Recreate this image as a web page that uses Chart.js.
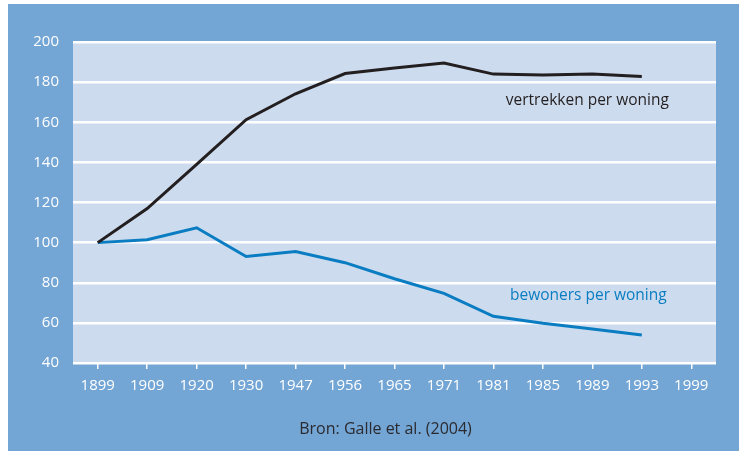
<!DOCTYPE html>
<html>
<head>
<meta charset="utf-8">
<script src="https://cdn.jsdelivr.net/npm/chart.js@4"></script>
<style>
  html, body { margin: 0; padding: 0; background: #fff; }
  #wrap { position: absolute; left: 8px; top: 4px; width: 731px; height: 447px; background: #73a5d5; }
</style>
</head>
<body>
<div id="wrap"><canvas id="chart"></canvas></div>
<script>
// ── DATA ───────────────────────────────────────────────────────────────────
const years      = ['1899','1909','1920','1930','1947','1956','1965','1971','1981','1985','1989','1993','1999'];
const vertrekken = [100, 117, 139, 161.3, 174.2, 184.3, 187, 189.5, 184, 183.6, 184.1, 182.8, null];
const bewoners   = [100, 101.4, 107.4, 93.1, 95.6, 90, 82, 74.7, 63.3, 59.8, 56.9, 54, null];
const yTicks     = [40, 60, 80, 100, 120, 140, 160, 180, 200];

const FONT = "'Open Sans', sans-serif";
const BLACK = '#231f20';
const BLUE  = '#0a7dc2';

// plot background + series labels + source
const decor = {
  id: 'decor',
  beforeDraw(chart) {
    const { ctx, chartArea: a } = chart;
    ctx.save();
    ctx.fillStyle = '#cddbee';
    ctx.fillRect(a.left, a.top, a.right - a.left, a.bottom - a.top);
    ctx.restore();
  },
  afterDraw(chart) {
    const { ctx, chartArea: a, scales: { x, y } } = chart;
    ctx.save();
    ctx.font = '15.5px ' + FONT;
    ctx.textAlign = 'center';
    ctx.textBaseline = 'middle';
    ctx.fillStyle = BLACK;
    ctx.fillText('vertrekken per woning', x.getPixelForValue(10) - 5, y.getPixelForValue(170.7));
    ctx.fillStyle = BLUE;
    ctx.fillText('bewoners per woning', x.getPixelForValue(10) - 4, y.getPixelForValue(73.5));
    ctx.font = '16px ' + FONT;
    ctx.fillStyle = '#2b2a2e';
    ctx.fillText('Bron: Galle et al. (2004)', (a.left + a.right) / 2 - 9, a.bottom + 66);
    ctx.restore();
  }
};

new Chart(document.getElementById('chart'), {
  type: 'line',
  data: {
    labels: years,
    datasets: [
      { label: 'vertrekken per woning', data: vertrekken, borderColor: BLACK, borderWidth: 3,
        pointRadius: 0, tension: 0, fill: false },
      { label: 'bewoners per woning', data: bewoners, borderColor: BLUE, borderWidth: 3,
        pointRadius: 0, tension: 0, fill: false }
    ]
  },
  options: {
    responsive: true, maintainAspectRatio: false, animation: false,
    layout: { padding: { left: 15, right: 23, top: 38, bottom: 48 } },
    plugins: { legend: { display: false }, tooltip: { enabled: false } },
    scales: {
      x: {
        offset: true,
        grid: { offset: false, drawOnChartArea: false, drawTicks: true, tickLength: 6, color: '#ffffff', lineWidth: 1.5 },
        border: { display: false },
        ticks: { color: '#ffffff', font: { family: FONT, size: 15 }, padding: 8, maxRotation: 0, autoSkip: false },
        afterFit(s) { s.height = 40; }
      },
      y: {
        min: 40, max: 200,
        afterBuildTicks(s) { s.ticks = yTicks.map(v => ({ value: v })); },
        grid: { color: '#ffffff', lineWidth: 2.5, drawTicks: false },
        border: { display: false },
        ticks: { color: '#ffffff', font: { family: FONT, size: 15 }, padding: 14 },
        afterFit(s) { s.width = 50; }
      }
    }
  },
  plugins: [decor]
});
</script>
</body>
</html>
